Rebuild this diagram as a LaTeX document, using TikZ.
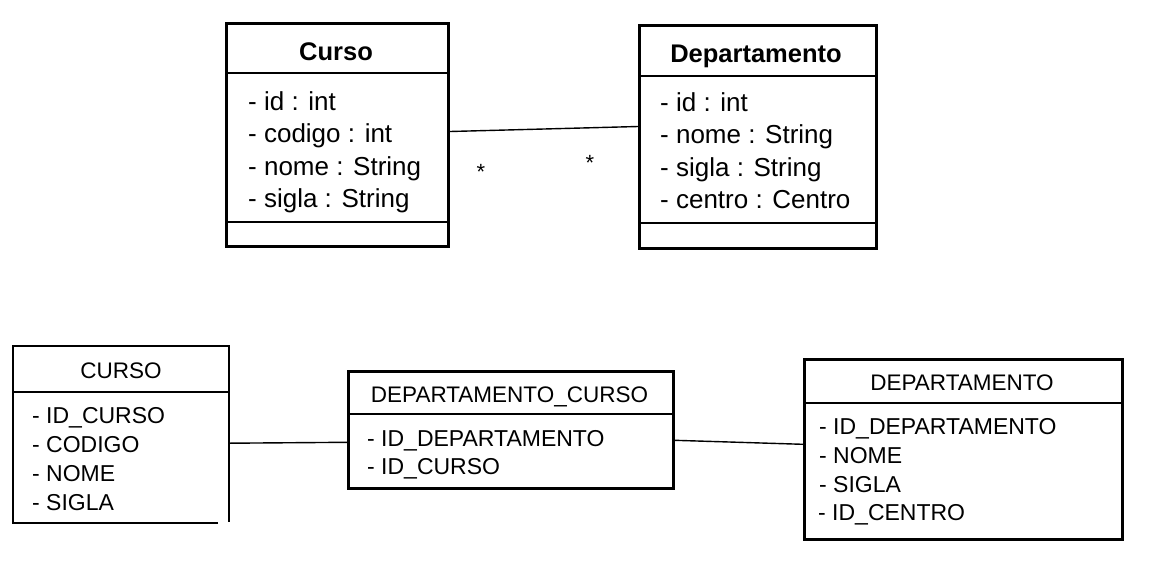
\documentclass[tikz,border=0pt]{standalone}
\usepackage{fontspec}
\setmainfont{Liberation Sans}
\begin{document}
\begin{tikzpicture}[x=1pt,y=-1pt,
  umlbox/.style={draw, line width=3pt, rectangle, inner sep=0pt, anchor=north west},
  tblbox/.style={rectangle, inner sep=0pt, anchor=north west},
  usep/.style={line width=2pt},
  tsep/.style={line width=1.3pt},
  outer/.style={line width=2.6pt},
  conn/.style={line width=1.4pt},
  utitle/.style={font=\fontsize{25.5}{30}\selectfont\bfseries, inner sep=0pt, anchor=base},
  uattr/.style={font=\fontsize{26}{30}\selectfont, inner sep=0pt, anchor=base west},
  ttitle/.style={font=\fontsize{22.5}{27}\selectfont, inner sep=0pt, anchor=base},
  tattr/.style={font=\fontsize{23}{27}\selectfont, inner sep=0pt, anchor=base west},
  mult/.style={font=\fontsize{22}{30}\selectfont, inner sep=0pt, anchor=base}]
\useasboundingbox (0,0) rectangle (1154,568);
\fill[white] (0,0) rectangle (1154,568);

% ---------- upper UML classes ----------
\node[umlbox, minimum width=222pt, minimum height=223pt] (curso) at (225,22) {};
\draw[usep] (curso.west |- {(0,73)}) -- (curso.east |- {(0,73)});
\draw[usep] (curso.west |- {(0,222)}) -- (curso.east |- {(0,222)});
\node[utitle] (cursoT) at (336,60) {Curso};
\node[uattr] (cursoA1) at (248,110) {- id : int};
\node[uattr] (cursoA2) at (248,142) {- codigo : int};
\node[uattr] (cursoA3) at (248,175) {- nome : String};
\node[uattr] (cursoA4) at (248,207) {- sigla : String};

\node[umlbox, minimum width=237pt, minimum height=223pt] (dep) at (638,24) {};
\draw[usep] (dep.west |- {(0,76)}) -- (dep.east |- {(0,76)});
\draw[usep] (dep.west |- {(0,223)}) -- (dep.east |- {(0,223)});
\node[utitle] (depT) at (756,62) {Departamento};
\node[uattr] (depA1) at (660,111) {- id : int};
\node[uattr] (depA2) at (660,143) {- nome : String};
\node[uattr] (depA3) at (660,176) {- sigla : String};
\node[uattr] (depA4) at (660,208) {- centro : Centro};

\draw[conn] ([yshift=3.5pt]curso.east) -- ([yshift=10.5pt]dep.west);
\node[mult] (m1) at (481,179) {*};
\node[mult] (m2) at (590,170) {*};

% ---------- lower tables ----------
\node[tblbox, minimum width=216pt, minimum height=177pt] (tcurso) at (13,346) {};
\draw[outer] (218,523) -- (13,523) -- (13,346) -- (229,346) -- (229,522);
\draw[tsep] (13,392) -- (229,392);
\node[ttitle] (tcursoT) at (121,378) {CURSO};
\node[tattr] (tcursoA1) at (32,423) {- ID\_CURSO};
\node[tattr] (tcursoA2) at (32,452) {- CODIGO};
\node[tattr] (tcursoA3) at (32,481) {- NOME};
\node[tattr] (tcursoA4) at (32,510) {- SIGLA};

\node[tblbox, draw, line width=2.6pt, minimum width=325pt, minimum height=117pt] (tdc) at (347,370) {};
\draw[tsep] (tdc.west |- {(0,414)}) -- (tdc.east |- {(0,414)});
\node[ttitle] (tdcT) at (509.5,402) {DEPARTAMENTO\_CURSO};
\node[tattr] (tdcA1) at (367,446) {- ID\_DEPARTAMENTO};
\node[tattr] (tdcA2) at (367,474) {- ID\_CURSO};

\node[tblbox, draw, line width=2.6pt, minimum width=318pt, minimum height=180pt] (tdep) at (803,358) {};
\draw[tsep] (tdep.west |- {(0,403)}) -- (tdep.east |- {(0,403)});
\node[ttitle] (tdepT) at (962,390) {DEPARTAMENTO};
\node[tattr] (tdepA1) at (819,434) {- ID\_DEPARTAMENTO};
\node[tattr] (tdepA2) at (819,463) {- NOME};
\node[tattr] (tdepA3) at (819,492) {- SIGLA};
\node[tattr] (tdepA4) at (818,520) {- ID\_CENTRO};

\draw[conn] ([yshift=-8.5pt]tcurso.east) -- ([yshift=-12.5pt]tdc.west);
\draw[conn] ([yshift=-10.5pt]tdc.east) -- ([yshift=5pt]tdep.west);
\end{tikzpicture}
\end{document}
